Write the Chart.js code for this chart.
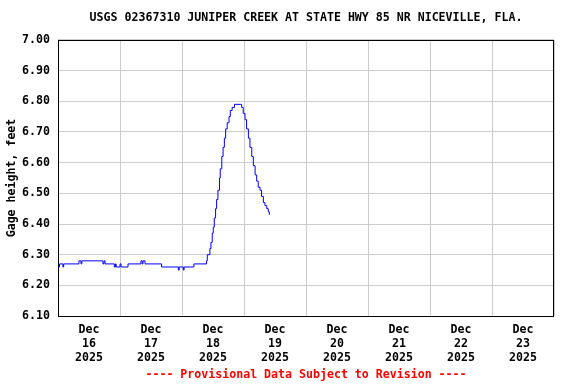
<!DOCTYPE html>
<html>
<head>
<meta charset="utf-8">
<script src="https://cdn.jsdelivr.net/npm/chart.js@4/dist/chart.umd.min.js"></script>
<style>
  body { margin: 0; background: #fff; }
  #gage { display: block; }
</style>
</head>
<body>
<canvas id="gage" width="576" height="384"></canvas>
<script>
// hours since Dec 16 2025 00:00, and gage height (feet)
const hours = [
  0, 0.6, 1.9, 2.2, 8.1, 8.9, 9.2, 17.4, 17.8, 18.2,
  21.8, 22.3, 22.5, 24.0, 24.4, 27.1, 32.1, 32.6, 32.9, 33.7,
  40.1, 46.6, 46.9, 48.5, 48.8, 52.6, 57.5, 57.8, 58.8, 59.2,
  59.7, 60.1, 60.5, 61.0, 61.4, 61.9, 62.5, 62.8, 63.4, 63.9,
  64.4, 64.9, 65.5, 66.2, 66.7, 67.4, 68.3, 70.5, 71.1, 71.7,
  72.4, 73.0, 73.7, 74.3, 75.0, 75.6, 76.3, 76.9, 77.5, 78.2,
  78.8, 79.5, 80.1, 80.8, 81.4, 81.8
];
const gageHeight = [
  6.26, 6.27, 6.26, 6.27, 6.28, 6.27, 6.28, 6.27, 6.28, 6.27,
  6.26, 6.27, 6.26, 6.27, 6.26, 6.27, 6.28, 6.27, 6.28, 6.27,
  6.26, 6.25, 6.26, 6.25, 6.26, 6.27, 6.28, 6.30, 6.32, 6.34,
  6.37, 6.39, 6.42, 6.45, 6.48, 6.51, 6.55, 6.58, 6.62, 6.65,
  6.68, 6.71, 6.73, 6.75, 6.77, 6.78, 6.79, 6.79, 6.78, 6.76,
  6.74, 6.71, 6.68, 6.65, 6.62, 6.59, 6.56, 6.54, 6.52, 6.51,
  6.49, 6.47, 6.46, 6.45, 6.44, 6.43
];

const dayLabels = ['16', '17', '18', '19', '20', '21', '22', '23'];
const monthLabel = 'Dec';
const yearLabel = '2025';

const FONT = { family: "'DejaVu Sans Mono', monospace", size: 11.6, weight: 'bold', lineHeight: 1.2 };

// black frame round the plot area
const framePlugin = {
  id: 'frame',
  beforeDatasetsDraw(chart) {
    const a = chart.chartArea;
    const ctx = chart.ctx;
    ctx.save();
    ctx.strokeStyle = '#000';
    ctx.lineWidth = 1;
    ctx.strokeRect(Math.round(a.left) + 0.5, Math.round(a.top) + 0.5,
      Math.round(a.right - a.left) - 1, Math.round(a.bottom - a.top));
    ctx.restore();
  }
};

new Chart(document.getElementById('gage'), {
  type: 'line',
  data: {
    datasets: [{
      label: 'Gage height',
      data: hours.map((h, i) => ({ x: h, y: gageHeight[i] })),
      borderColor: '#0000ff',
      borderWidth: 1,
      pointRadius: 0,
      stepped: 'before',
      fill: false
    }]
  },
  options: {
    responsive: false,
    animation: false,
    devicePixelRatio: 1,
    layout: { padding: { left: 0, right: 22, top: 0, bottom: 0 } },
    plugins: {
      legend: { display: false },
      tooltip: { enabled: false },
      title: {
        display: true,
        fullSize: false,
        text: 'USGS 02367310 JUNIPER CREEK AT STATE HWY 85 NR NICEVILLE, FLA.',
        color: '#000',
        font: FONT,
        padding: { top: 11, bottom: 15 }
      },
      subtitle: {
        display: true,
        fullSize: false,
        position: 'bottom',
        text: '---- Provisional Data Subject to Revision ----',
        color: '#ff0000',
        font: FONT,
        padding: { top: 4, bottom: 2 }
      }
    },
    scales: {
      x: {
        type: 'linear',
        min: 0,
        max: 192,
        border: { display: false },
        grid: {
          drawTicks: false,
          color: ctx => (ctx.tick && ctx.tick.value % 24 === 0) ? '#cccccc' : 'rgba(0,0,0,0)'
        },
        ticks: {
          stepSize: 12,
          autoSkip: false,
          maxRotation: 0,
          minRotation: 0,
          padding: 7,
          color: '#000',
          font: FONT,
          callback: v => v % 24 === 12 ? [monthLabel, dayLabels[(v - 12) / 24], yearLabel] : ''
        },
        afterFit: scale => { scale.height = 48; }
      },
      y: {
        min: 6.1,
        max: 7.0,
        border: { display: false },
        grid: { drawTicks: false, color: '#cccccc' },
        ticks: {
          stepSize: 0.1,
          padding: 8,
          color: '#000',
          font: FONT,
          callback: v => Number(v).toFixed(2)
        },
        title: {
          display: true,
          text: 'Gage height, feet',
          color: '#000',
          font: FONT,
          padding: { top: 5, bottom: 0 }
        },
        afterFit: scale => { scale.width = 58; }
      }
    }
  },
  plugins: [framePlugin]
});
</script>
</body>
</html>
